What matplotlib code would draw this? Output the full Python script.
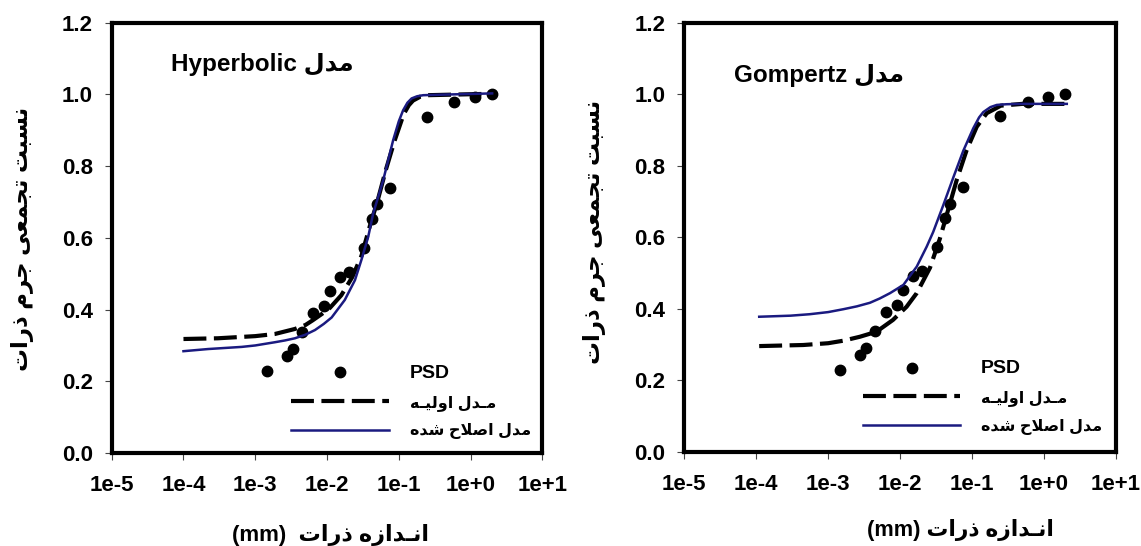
import matplotlib
matplotlib.use("Agg")
import matplotlib.pyplot as plt
from matplotlib.lines import Line2D
from matplotlib.ticker import FixedLocator, FixedFormatter, NullLocator

plt.rcParams['font.family'] = ['Liberation Sans', 'DejaVu Sans']
plt.rcParams['font.weight'] = 'bold'

# ---------------- data ----------------
psd_size_mm = [0.00147, 0.00274, 0.00332, 0.00443, 0.00643, 0.00897, 0.0110, 0.0151,
               0.0204, 0.0327, 0.0418, 0.0495, 0.0752, 0.248, 0.592, 1.15, 1.96]
psd_fraction = [0.230, 0.271, 0.291, 0.338, 0.391, 0.411, 0.453, 0.492,
                0.506, 0.573, 0.653, 0.694, 0.740, 0.938, 0.978, 0.992, 1.001]

hyp_init_size = [1.0e-4, 3.0e-4, 1.0e-3, 1.88e-3, 3.57e-3, 5.0e-3, 6.3e-3, 8.5e-3, 0.0110,
                 0.0158, 0.0224, 0.0302, 0.0398, 0.0501, 0.0661, 0.0871, 0.117, 0.138,
                 0.158, 0.200, 0.251, 2.0]
hyp_init_frac = [0.318, 0.320, 0.326, 0.332, 0.346, 0.357, 0.370, 0.388, 0.405,
                 0.440, 0.490, 0.550, 0.635, 0.700, 0.790, 0.870, 0.945, 0.970,
                 0.983, 0.994, 0.998, 1.002]

hyp_mod_size = [1.0e-4, 2.2e-4, 6.5e-4, 1.0e-3, 1.88e-3, 2.6e-3, 3.57e-3, 5.0e-3, 6.8e-3,
                9.0e-3, 0.0116, 0.0177, 0.0245, 0.0303, 0.0375, 0.0440, 0.0607, 0.0836,
                0.100, 0.115, 0.132, 0.151, 0.180, 0.219, 0.50, 2.0]
hyp_mod_frac = [0.284, 0.290, 0.296, 0.300, 0.309, 0.314, 0.320, 0.330, 0.343,
                0.360, 0.378, 0.427, 0.482, 0.540, 0.603, 0.668, 0.761, 0.873,
                0.925, 0.956, 0.977, 0.989, 0.995, 0.998, 1.000, 1.003]

gom_init_size = [1.1e-4, 4.5e-4, 1.0e-3, 1.62e-3, 2.75e-3, 4.68e-3, 7.94e-3, 0.0123, 0.0170,
                 0.0260, 0.0355, 0.0447, 0.0611, 0.0841, 0.116, 0.160, 0.251, 0.50, 2.07]
gom_init_frac = [0.296, 0.299, 0.304, 0.311, 0.322, 0.336, 0.369, 0.406, 0.444,
                 0.515, 0.595, 0.665, 0.760, 0.844, 0.909, 0.947, 0.968, 0.973, 0.973]

gom_mod_size = [1.1e-4, 3.0e-4, 5.5e-4, 1.0e-3, 1.62e-3, 2.5e-3, 3.8e-3, 5.2e-3, 7.24e-3,
                0.0111, 0.0170, 0.0234, 0.0288, 0.0398, 0.0550, 0.0755, 0.104, 0.125,
                0.143, 0.180, 0.220, 0.300, 0.463, 2.07]
gom_mod_frac = [0.378, 0.381, 0.385, 0.391, 0.399, 0.407, 0.417, 0.429, 0.444,
                0.467, 0.518, 0.574, 0.615, 0.690, 0.768, 0.842, 0.905, 0.935,
                0.950, 0.964, 0.970, 0.972, 0.973, 0.973]

x_ticks = [1e-5, 1e-4, 1e-3, 1e-2, 1e-1, 1e0, 1e1]
x_tick_labels = ["1e-5", "1e-4", "1e-3", "1e-2", "1e-1", "1e+0", "1e+1"]
y_ticks = [0.0, 0.2, 0.4, 0.6, 0.8, 1.0, 1.2]
y_tick_labels = ["0.0", "0.2", "0.4", "0.6", "0.8", "1.0", "1.2"]

title_left = "Hyperbolic"
title_right = "Gompertz"
word_model = "مدل"
label_psd = "PSD"
label_init = "مـدل اولیـه"
label_mod = "مدل اصلاح شده"
y_label = "نسبت تجمعی جرم ذرات"
x_label_fa = "انـدازه ذرات"

# ---------------- simple Arabic-script shaping (presentation forms) ----------------
FORMS = {
    '\u0627': (0xFE8D, 0xFE8E, None, None),
    '\u0628': (0xFE8F, 0xFE90, 0xFE91, 0xFE92),
    '\u062A': (0xFE95, 0xFE96, 0xFE97, 0xFE98),
    '\u062C': (0xFE9D, 0xFE9E, 0xFE9F, 0xFEA0),
    '\u062D': (0xFEA1, 0xFEA2, 0xFEA3, 0xFEA4),
    '\u062F': (0xFEA9, 0xFEAA, None, None),
    '\u0630': (0xFEAB, 0xFEAC, None, None),
    '\u0631': (0xFEAD, 0xFEAE, None, None),
    '\u0632': (0xFEAF, 0xFEB0, None, None),
    '\u0633': (0xFEB1, 0xFEB2, 0xFEB3, 0xFEB4),
    '\u0634': (0xFEB5, 0xFEB6, 0xFEB7, 0xFEB8),
    '\u0635': (0xFEB9, 0xFEBA, 0xFEBB, 0xFEBC),
    '\u0639': (0xFEC9, 0xFECA, 0xFECB, 0xFECC),
    '\u0644': (0xFEDD, 0xFEDE, 0xFEDF, 0xFEE0),
    '\u0645': (0xFEE1, 0xFEE2, 0xFEE3, 0xFEE4),
    '\u0646': (0xFEE5, 0xFEE6, 0xFEE7, 0xFEE8),
    '\u0647': (0xFEE9, 0xFEEA, 0xFEEB, 0xFEEC),
    '\u0648': (0xFEED, 0xFEEE, None, None),
    '\u06CC': (0xFEEF, 0xFEF0, 0xFEF3, 0xFEF4),
}
KASHIDA = '\u0640'


def _dual(c):
    return c == KASHIDA or (c in FORMS and FORMS[c][2] is not None)


def _joins(c):
    return c == KASHIDA or c in FORMS


def shape(text):
    out = []
    i, n = 0, len(text)
    while i < n:
        c = text[i]
        prev = text[i - 1] if i > 0 else ''
        pj = bool(prev) and _dual(prev)
        if c == '\u0644' and i + 1 < n and text[i + 1] == '\u0627':
            out.append(chr(0xFEFC if pj else 0xFEFB))
            i += 2
            continue
        if c in FORMS:
            nxt = text[i + 1] if i + 1 < n else ''
            nj = bool(nxt) and _joins(nxt) and _dual(c)
            iso, fin, ini, med = FORMS[c]
            if pj and nj:
                g = med
            elif pj:
                g = fin
            elif nj:
                g = ini
            else:
                g = iso
            out.append(chr(g))
        else:
            out.append(c)
        i += 1
    return ''.join(reversed(out))


# ---------------- figure ----------------
fig = plt.figure(figsize=(11.41, 5.46), dpi=100)
fig.patch.set_facecolor('white')
ax1 = fig.add_axes([0.0979, 0.1703, 0.3774, 0.788])
ax2 = fig.add_axes([0.5997, 0.1722, 0.3784, 0.7863])

BLUE = '#1a1a80'


def draw(ax, init_s, init_f, mod_s, mod_f, title, title_xy, leg_xy):
    ax.plot(psd_size_mm, psd_fraction, ls='none', marker='o', ms=7.5, color='black', zorder=2)
    ax.plot(init_s, init_f, color='black', lw=3.0, dashes=(5.5, 1.8), zorder=3)
    ax.plot(mod_s, mod_f, color=BLUE, lw=1.8, zorder=4)
    ax.set_xscale('log')
    ax.set_xlim(1e-5, 1e1)
    ax.set_ylim(0, 1.2)
    ax.xaxis.set_major_locator(FixedLocator(x_ticks))
    ax.xaxis.set_major_formatter(FixedFormatter(x_tick_labels))
    ax.xaxis.set_minor_locator(NullLocator())
    ax.yaxis.set_major_locator(FixedLocator(y_ticks))
    ax.yaxis.set_major_formatter(FixedFormatter(y_tick_labels))
    for sp in ax.spines.values():
        sp.set_linewidth(3.0)
        sp.set_color('black')
    ax.tick_params(axis='both', which='major', direction='out', length=5, width=0.8,
                   color='#444444', labelsize=16)
    ax.tick_params(axis='x', pad=10.5)
    ax.tick_params(axis='y', pad=8.5)
    for lab in ax.get_xticklabels() + ax.get_yticklabels():
        lab.set_fontweight('bold')
    ax.text(title_xy[0], title_xy[1], title + " " + shape(word_model), transform=ax.transAxes,
            fontsize=17.5, fontweight='bold', ha='left', va='center')
    handles = [
        Line2D([], [], ls='none', marker='o', ms=7.5, color='black'),
        Line2D([], [], color='black', lw=3.0, dashes=(5.5, 1.8)),
        Line2D([], [], color=BLUE, lw=1.8),
    ]
    labels = [label_psd, shape(label_init), shape(label_mod)]
    leg = ax.legend(handles, labels, loc='upper left', bbox_to_anchor=leg_xy, frameon=False,
                    borderpad=0, borderaxespad=0, handlelength=6.1, handletextpad=1.3,
                    labelspacing=0.8, numpoints=1, prop={'size': 11.5, 'weight': 'bold'})
    leg.get_texts()[0].set_fontsize(14)


draw(ax1, hyp_init_size, hyp_init_frac, hyp_mod_size, hyp_mod_frac,
     title_left, (0.138, 0.904), (0.4175, 0.205))
draw(ax2, gom_init_size, gom_init_frac, gom_mod_size, gom_mod_frac,
     title_right, (0.115, 0.876), (0.414, 0.214))

# y labels
fig.text(23 / 1141, 1 - 239 / 546, shape(y_label), rotation=90, ha='center', va='center',
         fontsize=16.5, fontweight='bold')
fig.text(595 / 1141, 1 - 232 / 546, shape(y_label), rotation=90, ha='center', va='center',
         fontsize=16.5, fontweight='bold')
# x labels
fig.text(330 / 1141, 1 - 535 / 546, "(mm)  " + shape(x_label_fa), ha='center', va='center',
         fontsize=16, fontweight='bold')
fig.text(960 / 1141, 1 - 530 / 546, "(mm) " + shape(x_label_fa), ha='center', va='center',
         fontsize=15.7, fontweight='bold')

fig.savefig("out.png", dpi=100, facecolor='white')
